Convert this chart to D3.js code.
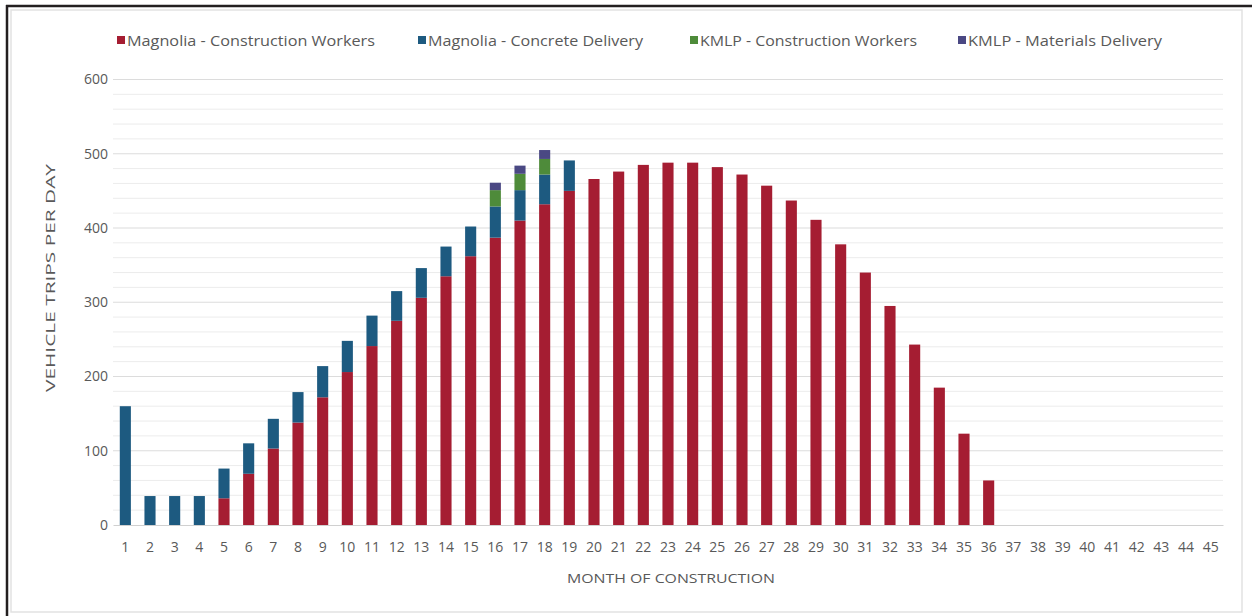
<!DOCTYPE html>
<html><head><meta charset="utf-8">
<script src="https://cdn.jsdelivr.net/npm/d3@7"></script>
<style>body{margin:0;background:#fff}svg{display:block}text{font-family:"Open Sans",sans-serif;fill:#595959}</style>
</head><body><svg id="c" width="1252" height="616"></svg>
<script>
const months = d3.range(1, 46).map(String);
const magWorkers = [0,0,0,0,36,69,103,138,172,206,241,275,306,335,362,387,410,432,450,466,476,485,488,488,482,472,457,437,411,378,340,295,243,185,123,60,0,0,0,0,0,0,0,0,0];
const magConcrete = [160,39,39,39,40,41,40,41,42,42,41,40,40,40,40,42,41,40,41,0,0,0,0,0,0,0,0,0,0,0,0,0,0,0,0,0,0,0,0,0,0,0,0,0,0];
const kmlpWorkers = [0,0,0,0,0,0,0,0,0,0,0,0,0,0,0,22,22,21,0,0,0,0,0,0,0,0,0,0,0,0,0,0,0,0,0,0,0,0,0,0,0,0,0,0,0];
const kmlpMaterials = [0,0,0,0,0,0,0,0,0,0,0,0,0,0,0,10,11,12,0,0,0,0,0,0,0,0,0,0,0,0,0,0,0,0,0,0,0,0,0,0,0,0,0,0,0];
const seriesNames = ["Magnolia - Construction Workers","Magnolia - Concrete Delivery","KMLP - Construction Workers","KMLP - Materials Delivery"];
const seriesColors = ["#A51D32","#1D5A80","#4E8B3A","#4A4883"];
const yTicks = [0,100,200,300,400,500,600];

const svg = d3.select("#c");
// frame
svg.append("rect").attr("x",0).attr("y",0).attr("width",1252).attr("height",616).attr("fill","#fff");
svg.append("rect").attr("x",11).attr("y",10).attr("width",1231).attr("height",602).attr("fill","#fff").attr("stroke","#e2e2e2").attr("stroke-width",1.5);
svg.append("line").attr("x1",6).attr("x2",1252).attr("y1",6).attr("y2",6).attr("stroke","#231f20").attr("stroke-width",2.5);
svg.append("line").attr("x1",7).attr("x2",7).attr("y1",5).attr("y2",616).attr("stroke","#231f20").attr("stroke-width",2.5);

const x = d3.scaleBand().domain(months).range([113,1223]).paddingInner(0.55).paddingOuter(0.275);
const y = d3.scaleLinear().domain([0,600]).range([525,79.5]);

// gridlines
const g = svg.append("g");
g.selectAll(".minor").data(d3.range(0,601,20).filter(v=>v%100!==0)).join("line")
  .attr("x1",113).attr("x2",1223).attr("y1",d=>y(d)).attr("y2",d=>y(d)).attr("stroke","#ececec").attr("stroke-width",1);
g.selectAll(".major").data(yTicks.slice(1)).join("line")
  .attr("x1",113).attr("x2",1223).attr("y1",d=>y(d)).attr("y2",d=>y(d)).attr("stroke","#dcdcdc").attr("stroke-width",1.2);

// y axis
const ya = svg.append("g").attr("transform","translate(113,0)").call(d3.axisLeft(y).tickValues(yTicks).tickSize(0).tickPadding(5));
ya.select(".domain").remove();
ya.selectAll("text").attr("font-size",14).attr("fill","#595959").attr("font-family","Open Sans");

// stacks
const rows = months.map((m,i)=>({m, s0:magWorkers[i], s1:magConcrete[i], s2:kmlpWorkers[i], s3:kmlpMaterials[i]}));
const stack = d3.stack().keys(["s0","s1","s2","s3"])(rows);
svg.append("g").selectAll("g").data(stack).join("g").attr("fill",(d,i)=>seriesColors[i])
  .selectAll("rect").data(d=>d.filter(p=>p[1]-p[0]>0)).join("rect")
  .attr("x",d=>x(d.data.m)).attr("width",x.bandwidth())
  .attr("y",d=>y(d[1])).attr("height",d=>y(d[0])-y(d[1]));

// x axis
const xa = svg.append("g").attr("transform","translate(0,525)").call(d3.axisBottom(x).tickSize(0).tickPadding(17));
xa.select(".domain").attr("stroke","#d0d0d0");
xa.selectAll("text").attr("font-size",14).attr("fill","#595959").attr("font-family","Open Sans");

// axis titles
svg.append("text").attr("x",671).attr("y",583).attr("text-anchor","middle").attr("font-size",13.5)
  .attr("textLength",208).attr("lengthAdjust","spacingAndGlyphs").text("MONTH OF CONSTRUCTION");
svg.append("text").attr("transform","translate(55,278) rotate(-90)").attr("text-anchor","middle").attr("font-size",13)
  .attr("textLength",228).attr("lengthAdjust","spacingAndGlyphs").text("VEHICLE TRIPS PER DAY");

// legend
const legX = [117,418,690,958];
const legW = [248,215,217,194];
const leg = svg.append("g").selectAll("g").data(seriesNames).join("g").attr("transform",(d,i)=>`translate(${legX[i]},40)`);
leg.append("rect").attr("x",0).attr("y",-4).attr("width",8).attr("height",8).attr("fill",(d,i)=>seriesColors[i]);
leg.append("text").attr("x",10).attr("y",5.5).attr("font-size",14.5)
  .attr("textLength",(d,i)=>legW[i]).attr("lengthAdjust","spacingAndGlyphs").text(d=>d);
</script></body></html>
